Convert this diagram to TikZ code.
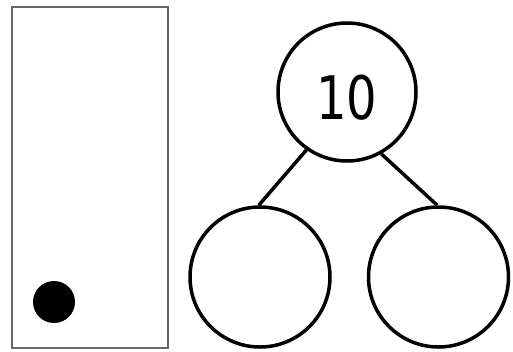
\documentclass[tikz,border=0pt]{standalone}
\usepackage{fontspec}
\setmainfont{DejaVu Sans}
\begin{document}
\begin{tikzpicture}[x=1pt,y=-1pt,
  ring/.style={circle,draw=black,line width=3.5pt,minimum size=138pt,inner sep=0pt},
  link/.style={draw=black,line width=3.5pt}]
\useasboundingbox (0,0) rectangle (513,351);
\node[draw=black!60,line width=2.2pt,minimum width=156pt,minimum height=341pt,inner sep=0pt] (frame) at (90,177.5) {};
\node[circle,fill=black,minimum size=42pt,inner sep=0pt] (dot) at (54,302) {};
\node[ring] (top) at (347,92) {};
\node[inner sep=0pt,yshift=-5.5pt] (toptext) at (top.center) {\fontsize{60}{60}\selectfont\scalebox{0.8}[1]{10}};
\node[ring,minimum size=140pt] (bl) at (260,277) {};
\node[ring,minimum size=140pt] (br) at (438.5,277) {};
\draw[link] (top.235) -- (bl.91);
\draw[link] (top.299) -- (br.91);
\end{tikzpicture}
\end{document}
